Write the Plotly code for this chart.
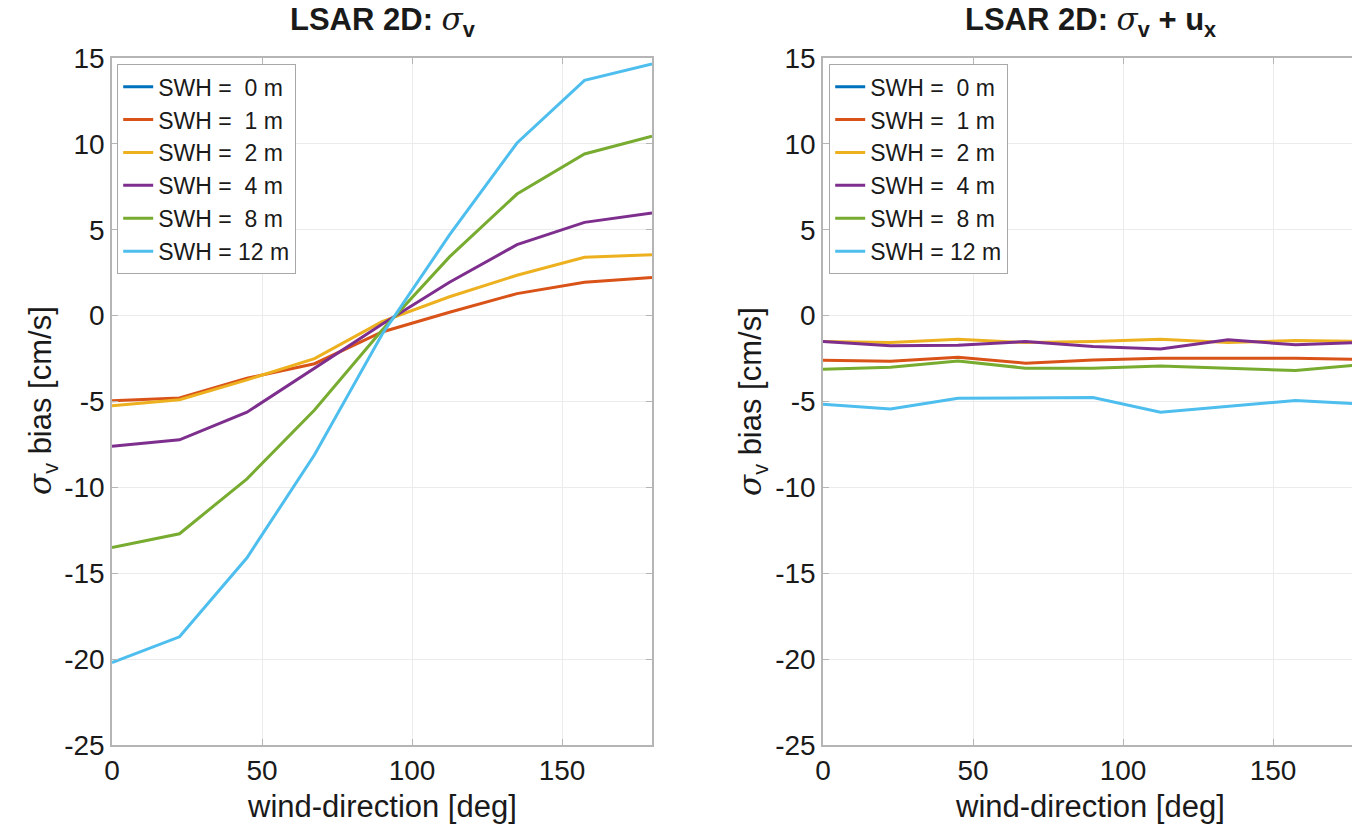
import plotly.graph_objects as go

wind_dir = [0, 22.5, 45, 67.5, 90, 112.5, 135, 157.5, 180]
swh_labels = ["SWH =\u00a0\u00a00 m", "SWH =\u00a0\u00a01 m", "SWH =\u00a0\u00a02 m",
              "SWH =\u00a0\u00a04 m", "SWH =\u00a0\u00a08 m", "SWH = 12 m"]
colors = ["#0072BD", "#D95319", "#EDB120", "#7E2F8E", "#77AC30", "#4DBEEE"]

x_ticks = [0, 50, 100, 150]
x_ticktext = ["0", "50", "100", "150"]
y_ticks = [-25, -20, -15, -10, -5, 0, 5, 10, 15]
y_ticktext = ["-25", "-20", "-15", "-10", "-5", "0", "5", "10", "15"]

# Left panel: sigma_v
sv_0m = [None] * 9
sv_1m = [-4.95, -4.8, -3.65, -2.8, -0.95, 0.2, 1.28, 1.94, 2.22]
sv_2m = [-5.25, -4.9, -3.74, -2.5, -0.35, 1.1, 2.35, 3.4, 3.55]
sv_4m = [-7.6, -7.23, -5.62, -3.06, -0.5, 1.94, 4.13, 5.43, 5.98]
sv_8m = [-13.5, -12.7, -9.5, -5.5, -0.85, 3.42, 7.08, 9.41, 10.44]
sv_12m = [-20.2, -18.7, -14.1, -8.1, -1.1, 4.7, 10.05, 13.7, 14.65]

# Right panel: sigma_v + u_x
su_0m = [None] * 9
su_1m = [-2.6, -2.65, -2.42, -2.77, -2.58, -2.48, -2.48, -2.48, -2.55]
su_2m = [-1.51, -1.57, -1.38, -1.57, -1.51, -1.38, -1.57, -1.45, -1.5]
su_4m = [-1.51, -1.76, -1.72, -1.51, -1.8, -1.94, -1.41, -1.7, -1.55]
su_8m = [-3.12, -3.0, -2.64, -3.06, -3.06, -2.93, -3.06, -3.2, -2.85]
su_12m = [-5.16, -5.43, -4.81, -4.81, -4.77, -5.62, -5.29, -4.94, -5.15]

left_series = [sv_0m, sv_1m, sv_2m, sv_4m, sv_8m, sv_12m]
right_series = [su_0m, su_1m, su_2m, su_4m, su_8m, su_12m]

W, H = 1352, 827
FONT = "Liberation Sans, Arial, Helvetica, sans-serif"
TXT = "#1a1a1a"
AX = "#b5b5b5"
GRID = "#ebebeb"


def px(x):
    return x / W


def py(y):
    return 1 - y / H


fig = go.Figure()
for name, ys, c in zip(swh_labels, left_series, colors):
    fig.add_trace(go.Scatter(x=wind_dir, y=ys, mode="lines", name=name,
                             line=dict(color=c, width=3), xaxis="x", yaxis="y",
                             legend="legend"))
for name, ys, c in zip(swh_labels, right_series, colors):
    fig.add_trace(go.Scatter(x=wind_dir, y=ys, mode="lines", name=name,
                             line=dict(color=c, width=3), xaxis="x2", yaxis="y2",
                             legend="legend2"))

ydom = [py(745), py(58)]
common_ax = dict(showgrid=True, gridcolor=GRID, gridwidth=1, zeroline=False,
                 showline=True, linecolor=AX, linewidth=1.5, automargin=False,
                 ticks="inside", ticklen=6, tickcolor=AX,
                 tickfont=dict(family=FONT, size=28, color=TXT))

fig.update_layout(
    width=W, height=H, autosize=False,
    margin=dict(l=0, r=0, t=0, b=0, pad=0),
    paper_bgcolor="white", plot_bgcolor="white",
    font=dict(family=FONT, color=TXT),
    xaxis=dict(domain=[px(112), px(652)], range=[0, 180], tickvals=x_ticks,
               ticktext=x_ticktext, anchor="y", mirror="ticks", **common_ax),
    yaxis=dict(domain=ydom, range=[-25, 15], tickvals=y_ticks, ticktext=y_ticktext,
               anchor="x", mirror="ticks", **common_ax),
    xaxis2=dict(domain=[px(823), 1.0], range=[0, (W - 823) / 3.0],
                tickvals=x_ticks, ticktext=x_ticktext, anchor="y2", mirror="ticks",
                **common_ax),
    yaxis2=dict(domain=ydom, range=[-25, 15], tickvals=y_ticks, ticktext=y_ticktext,
                anchor="x2", **common_ax),
    legend=dict(x=px(117), y=py(64), xanchor="left", yanchor="top",
                bgcolor="white", bordercolor="#a8a8a8", borderwidth=1.2,
                font=dict(family=FONT, size=23, color=TXT), tracegroupgap=0),
    legend2=dict(x=px(829), y=py(64), xanchor="left", yanchor="top",
                 bgcolor="white", bordercolor="#a8a8a8", borderwidth=1.2,
                 font=dict(family=FONT, size=23, color=TXT), tracegroupgap=0),
    showlegend=True,
)

sig = "<span style='font-family:DejaVu Serif'><i>σ</i></span>"
annots = [
    dict(x=px(382), y=py(22), text="<b>LSAR 2D: </b>" + sig + "<sub><b>v</b></sub>",
         font=dict(size=31)),
    dict(x=px(1090), y=py(22),
         text="<b>LSAR 2D: </b>" + sig + "<sub><b>v</b></sub><b> + u</b><sub><b>x</b></sub>",
         font=dict(size=31)),
    dict(x=px(382), y=py(806), text="wind-direction [deg]", font=dict(size=31)),
    dict(x=px(1090), y=py(806), text="wind-direction [deg]", font=dict(size=31)),
    dict(x=px(42), y=py(401), text=sig + "<sub>v</sub> bias [cm/s]", textangle=-90,
         font=dict(size=31)),
    dict(x=px(752), y=py(401), text=sig + "<sub>v</sub> bias [cm/s]", textangle=-90,
         font=dict(size=31)),
]
for a in annots:
    a.update(xref="paper", yref="paper", showarrow=False,
             xanchor="center", yanchor="middle")
    a["font"].update(family=FONT, color=TXT)
fig.update_layout(annotations=annots)

fig.write_html("out.html")
